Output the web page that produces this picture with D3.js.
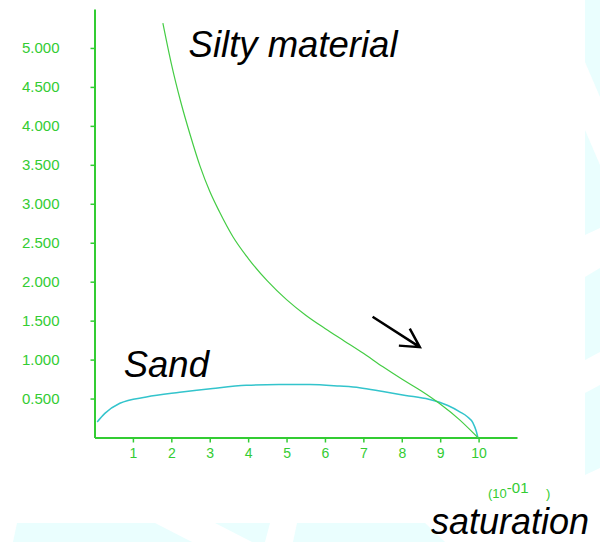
<!DOCTYPE html>
<html>
<head>
<meta charset="utf-8">
<script src="https://cdn.jsdelivr.net/npm/d3@7"></script>
<style>
  html, body { margin: 0; padding: 0; background: #fff; }
  svg { display: block; }
  .axis text { font-family: "Liberation Sans", Arial, sans-serif; fill: #33cc33; }
  .axis line, .axis path { stroke: #33cc33; }
</style>
</head>
<body>
<div id="chart"></div>
<script>
// values (saturation in 10^-1, y in plot units)
const siltyX = [1.78, 2.0, 2.25, 2.5, 2.75, 3.0, 3.25, 3.6, 4.0, 4.5, 5.0, 5.5, 6.0, 6.5, 7.0, 7.5, 8.0, 8.5, 9.0, 9.5, 9.98];
const siltyY = [5.32, 4.80, 4.30, 3.87, 3.48, 3.16, 2.90, 2.58, 2.30, 2.01, 1.77, 1.57, 1.40, 1.24, 1.08, 0.91, 0.75, 0.60, 0.43, 0.23, 0.00];

const sandX = [0.07, 0.27, 0.66, 1.35, 2.22, 3.08, 3.95, 4.80, 5.60, 6.38, 6.90, 7.51, 8.10, 8.70, 9.20, 9.51, 9.70, 9.85, 9.94, 9.98];
const sandY = [0.20, 0.31, 0.44, 0.52, 0.58, 0.63, 0.67, 0.68, 0.68, 0.66, 0.64, 0.59, 0.54, 0.49, 0.41, 0.33, 0.27, 0.19, 0.08, 0.00];

const xTicks = [1, 2, 3, 4, 5, 6, 7, 8, 9, 10];
const yTicks = [0.5, 1, 1.5, 2, 2.5, 3, 3.5, 4, 4.5, 5];

// arrow annotation, in data units: tail then tip
const arrowFrom = [7.24, 1.55];
const arrowTo = [8.47, 1.16];

const width = 600;
const height = 542;

const svg = d3.select('#chart')
    .append('svg')
    .attr('width', width)
    .attr('height', height);

svg.append('rect')
    .attr('width', width)
    .attr('height', height)
    .style('fill', '#fff');

// faint slide background shapes
const bgShapes = [
    [[585, 0], [600, 0], [600, 97], [585, 62]],
    [[585, 130], [600, 165], [600, 228], [585, 235]],
    [[585, 277], [600, 268], [600, 352], [585, 360]],
    [[585, 393], [600, 385], [600, 468], [585, 475]],
    [[17, 523], [155, 523], [192, 542], [13, 542]],
    [[215, 523], [270, 523], [265, 542], [252, 542]],
    [[297, 523], [425, 523], [445, 542], [293, 542]]
];
svg.append('g')
    .selectAll('polygon')
    .data(bgShapes)
    .join('polygon')
    .attr('points', d => d.map(p => p.join(',')).join(' '))
    .style('fill', '#eafefe');

const x = d3.scaleLinear().domain([0, 11]).range([94.5, 517]);
const y = d3.scaleLinear().domain([0, 5.5]).range([437.5, 9]);

// axes
const yAxis = svg.append('g')
    .attr('class', 'axis')
    .attr('transform', `translate(${x(0)},0)`)
    .call(d3.axisLeft(y)
        .tickValues(yTicks)
        .tickFormat(d3.format('.3f'))
        .tickSize(4)
        .tickSizeOuter(0)
        .tickPadding(31));
yAxis.selectAll('text').style('font-size', '15px');
yAxis.select('.domain').style('stroke-width', 2);
yAxis.selectAll('.tick line').style('stroke-width', 1.5);

const xAxis = svg.append('g')
    .attr('class', 'axis')
    .attr('transform', `translate(0,${y(0)})`)
    .call(d3.axisBottom(x)
        .tickValues(xTicks)
        .tickFormat(d3.format('d'))
        .tickSize(5)
        .tickSizeOuter(0)
        .tickPadding(6));
xAxis.selectAll('text').style('font-size', '14px');
xAxis.select('.domain').style('stroke-width', 2);
xAxis.selectAll('.tick line').style('stroke-width', 1.5);

// curves
const line = d3.line()
    .x(d => x(d[0]))
    .y(d => y(d[1]))
    .curve(d3.curveMonotoneX);

svg.append('path')
    .datum(sandX.map((v, i) => [v, sandY[i]]))
    .attr('d', line)
    .style('fill', 'none')
    .style('stroke', '#33c4cc')
    .style('stroke-width', 1.5);

svg.append('path')
    .datum(siltyX.map((v, i) => [v, siltyY[i]]))
    .attr('d', line)
    .style('fill', 'none')
    .style('stroke', '#44cc44')
    .style('stroke-width', 1.2);

// arrow
const ax0 = x(arrowFrom[0]), ay0 = y(arrowFrom[1]);
const ax1 = x(arrowTo[0]), ay1 = y(arrowTo[1]);
const back = Math.atan2(ay0 - ay1, ax0 - ax1);
const wing = 21;
const arrow = d3.path();
arrow.moveTo(ax0, ay0);
arrow.lineTo(ax1, ay1);
arrow.moveTo(ax1 + Math.cos(back - 0.5) * wing, ay1 + Math.sin(back - 0.5) * wing);
arrow.lineTo(ax1, ay1);
arrow.lineTo(ax1 + Math.cos(back + 0.5) * wing, ay1 + Math.sin(back + 0.5) * wing);
svg.append('path')
    .attr('d', arrow.toString())
    .style('fill', 'none')
    .style('stroke', '#000')
    .style('stroke-width', 2.5);

// labels
function bigLabel(px, py, txt, size) {
    svg.append('text')
        .attr('x', px)
        .attr('y', py)
        .style('font-family', '"Liberation Sans", Arial, sans-serif')
        .style('font-style', 'italic')
        .style('font-size', size + 'px')
        .style('fill', '#000')
        .text(txt);
}
bigLabel(x(2.45), y(4.88), 'Silty material', 36.5);
bigLabel(x(0.76), y(0.78), 'Sand', 36.5);
bigLabel(431, 534, 'saturation', 36);

const unit = svg.append('text')
    .attr('x', 488)
    .attr('y', 498)
    .style('font-family', '"Liberation Sans", Arial, sans-serif')
    .style('font-size', '13px')
    .style('fill', '#33cc33');
unit.append('tspan').text('(10');
unit.append('tspan').attr('dy', -5).style('font-size', '15px').text('-01');
svg.append('text')
    .attr('x', 546)
    .attr('y', 498)
    .style('font-family', '"Liberation Sans", Arial, sans-serif')
    .style('font-size', '13px')
    .style('fill', '#33cc33')
    .text(')');
</script>
</body>
</html>
